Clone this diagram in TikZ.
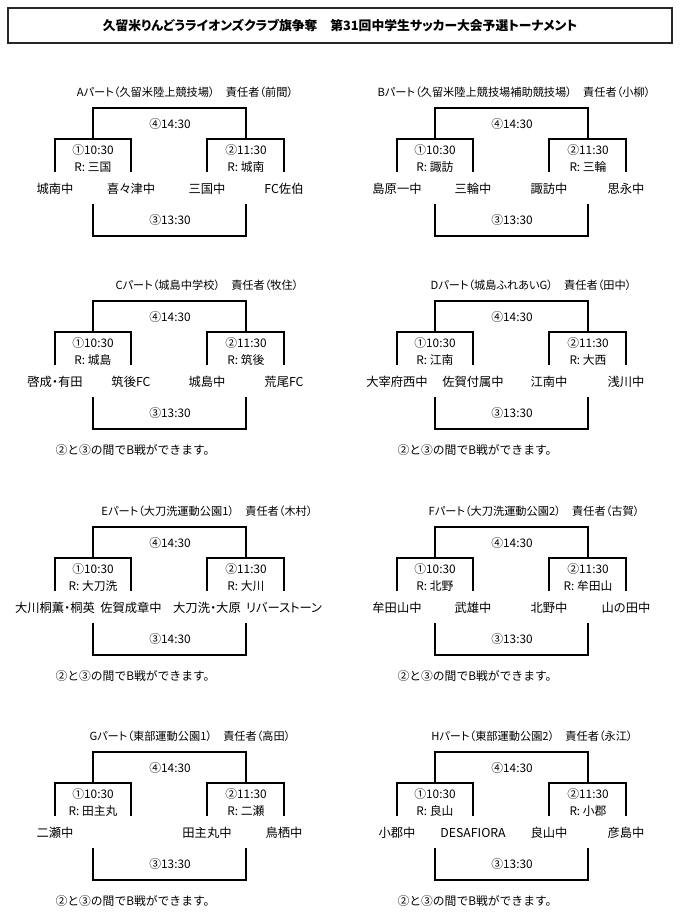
\documentclass[tikz,border=0pt]{standalone}
\usepackage{fontspec}
\setmainfont{Noto Sans CJK JP}
\newfontfamily\pfont{Noto Sans CJK JP}[RawFeature=+palt]
\usepackage{tikz}
\newcommand\bnote{②と③の間でB戦ができます。}

\tikzset{
	bline/.style={line width=1.2pt, black},
	team/.style={font=\pfont\fontsize{12.3}{15}\selectfont},
	gtime/.style={font=\fontsize{11.8}{14}\selectfont},
	head/.style={font=\pfont\fontsize{11.2}{13}\selectfont},
}

\begin{document}
\begin{tikzpicture}[x=1pt, y=-1pt]

	\useasboundingbox (0,0) rectangle (680,917);

	% Drawing the title box
	\node [draw, line width=2pt, black!85, minimum width=664pt, minimum height=35pt,
		font=\pfont\bfseries\fontsize{12.8}{16}\selectfont, text=black] (title) at (340,25.5)
		{久留米りんどうライオンズクラブ旗争奪　第31回中学生サッカー大会予選トーナメント};

	% Drawing the eight parts
	\foreach \dx/\dy/\p/\hx/\head/\ta/\tb/\tc/\td/\ra/\rb/\tm/\nt in {
		0/0/A/185/Aパート（久留米陸上競技場）　責任者（前間）/城南中/喜々津中/三国中/FC佐伯/三国/城南/13:30/{},
		342/0/B/172/Bパート（久留米陸上競技場補助競技場）　責任者（小柳）/島原一中/三輪中/諏訪中/思永中/諏訪/三輪/13:30/{},
		0/193/C/207/Cパート（城島中学校）　責任者（牧住）/啓成・有田/筑後FC/城島中/荒尾FC/城島/筑後/13:30/\bnote,
		342/193/D/189/Dパート（城島ふれあいG）　責任者（田中）/大宰府西中/佐賀付属中/江南中/浅川中/江南/大西/13:30/\bnote,
		0/419/E/207/Eパート（大刀洗運動公園1）　責任者（木村）/大川桐薫・桐英/佐賀成章中/大刀洗・大原/リバーストーン/大刀洗/大川/14:30/\bnote,
		342/419/F/192/Fパート（大刀洗運動公園2）　責任者（古賀）/牟田山中/武雄中/北野中/山の田中/北野/牟田山/13:30/\bnote,
		0/644/G/190/Gパート（東部運動公園1）　責任者（高田）/二瀬中/{}/田主丸中/鳥栖中/田主丸/二瀬/13:30/\bnote,
		342/644/H/190/Hパート（東部運動公園2）　責任者（永江）/小郡中/DESAFIORA/良山中/彦島中/良山/小郡/13:30/\bnote}
	{
	\begin{scope}[shift={(\dx,\dy)}]
		\node [head] (\p-head) at (\hx,92) {\head};

		% teams and bracket points
		\node [team] (\p-a) at (55,188.5) {\ta};
		\node [team] (\p-b) at (131,188.5) {\tb};
		\node [team] (\p-c) at (207,188.5) {\tc};
		\node [team] (\p-d) at (284,188.5) {\td};
		\coordinate (\p-m1) at (93,139);
		\coordinate (\p-m2) at (246,139);
		\coordinate (\p-top) at (170,108);
		\coordinate (\p-b1) at (93,204);
		\coordinate (\p-b2) at (246,204);
		\coordinate (\p-bot) at (170,236);

		% Drawing the brackets
		\draw [bline] ([yshift=16.5pt]\p-a.center) |- (\p-m1) -| ([yshift=16.5pt]\p-b.center);
		\draw [bline] ([yshift=16.5pt]\p-c.center) |- (\p-m2) -| ([yshift=16.5pt]\p-d.center);
		\draw [bline] (\p-m1) |- (\p-top) -| (\p-m2);
		\draw [bline] (\p-b1) |- (\p-bot) -| (\p-b2);

		% game times and referees
		\node [gtime] (\p-g4) at (170,124) {④14:30};
		\node [gtime] (\p-g1) at (93,150.5) {①10:30};
		\node [gtime] (\p-r1) at (93,167) {R: \ra};
		\node [gtime] (\p-g2) at (246,150.5) {②11:30};
		\node [gtime] (\p-r2) at (246,167) {R: \rb};
		\node [gtime] (\p-g3) at (170,220) {③\tm};
		\node [gtime, anchor=west] (\p-note) at (52,257) {\nt};
	\end{scope}
	}

\end{tikzpicture}
\end{document}
